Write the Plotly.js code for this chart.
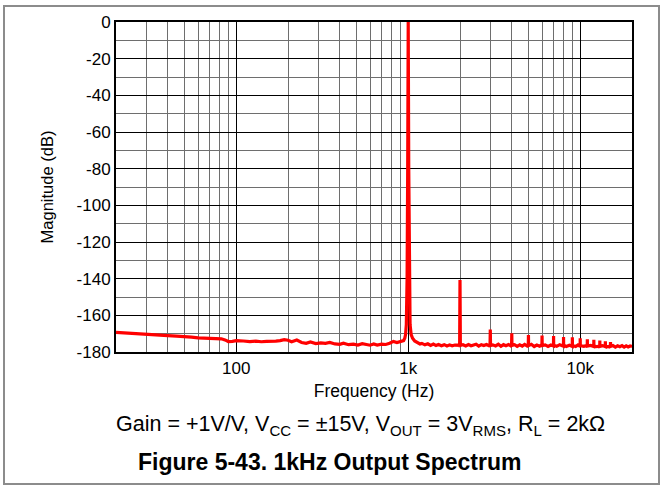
<!DOCTYPE html>
<html>
<head>
<meta charset="utf-8">
<script src="https://cdn.plot.ly/plotly-3.0.1.min.js"></script>
<style>
  html, body { margin: 0; padding: 0; background: #fff; }
  #wrap { position: relative; width: 662px; height: 485px; }
  #chart { position: absolute; left: 0; top: 0; width: 662px; height: 485px; }
  #frame { position: absolute; left: 3px; top: 5px; width: 653px; height: 476px;
           border: 2px solid #8c8c8c; pointer-events: none; }
</style>
</head>
<body>
<div id="wrap">
  <div id="chart"></div>
  <div id="frame"></div>
</div>
<script>
// Frequencies (Hz) and magnitudes (dB)
const freqLow = [20, 22, 25, 28, 32, 36, 40, 45, 50, 55, 60, 66, 72, 78, 82, 86, 90, 95, 100,
  110, 120, 130, 140, 150, 160, 170, 180, 190, 200, 210, 225, 240, 255, 270, 290, 310, 330,
  350, 375, 400, 420, 450, 480, 510, 540, 570, 600, 630, 660, 700, 740, 780, 820, 860, 900];
const magLow = [-169.3, -169.6, -170.0, -170.3, -170.6, -170.9, -171.1, -171.3, -171.5, -171.9, -172.3, -172.5, -172.6, -172.7, -172.8, -173.4, -174.3, -174.2, -173.8,
  -174.0, -174.3, -174.1, -174.4, -174.2, -174.3, -174.1, -173.8, -173.3, -173.6, -174.4, -173.5, -174.8, -175.3, -174.5, -175.4, -175.0, -175.3,
  -174.8, -175.6, -175.8, -175.2, -176.0, -175.7, -176.2, -175.5, -176.0, -176.3, -175.6, -176.2, -175.7, -175.9, -175.2, -174.2, -174.8, -174.5];

const freqPeak = [940, 955, 965, 975, 985, 993, 1000, 1007, 1015, 1025, 1040, 1060, 1090, 1130];
const magPeak = [-173.8, -172.5, -170.5, -165.0, -140.0, -80.0, 0.0, -80.0, -140.0, -165.0, -170.5, -172.5, -174.0, -175.0];

const freqHigh = [1170, 1200, 1250, 1300, 1350, 1400, 1450, 1500, 1560, 1620, 1680, 1740, 1800, 1870, 1940, 1990,
  2000, 2010, 2080, 2160, 2240, 2320, 2400, 2480, 2570, 2660, 2750, 2850, 2950, 2990,
  3000, 3010, 3100, 3220, 3340, 3460, 3580, 3700, 3830, 3950, 3990,
  4000, 4010, 4150, 4300, 4450, 4600, 4750, 4900, 4990,
  5000, 5010, 5200, 5400, 5600, 5800, 5990,
  6000, 6010, 6250, 6500, 6750, 6990,
  7000, 7010, 7300, 7600, 7990,
  8000, 8010, 8300, 8650, 8990,
  9000, 9010, 9400, 9700, 9990,
  10000, 10010, 10500, 10990,
  11000, 11010, 11500, 11990,
  12000, 12010, 12500, 12990,
  13000, 13010, 13500, 13990,
  14000, 14010, 14500, 14990,
  15000, 15010, 15500, 16000, 16500, 17000, 17500, 18000, 18500, 19000, 19500, 20000];
const magHigh = [-175.6, -175.3, -176.1, -175.5, -176.4, -175.7, -176.5, -175.9, -176.6, -176.0, -176.7, -176.1, -176.6, -176.2, -176.5, -176.3,
  -140.8, -176.4, -176.0, -176.7, -175.9, -176.6, -176.2, -175.8, -176.8, -176.0, -176.5, -175.9, -176.6, -176.3,
  -167.7, -176.4, -176.1, -176.7, -175.8, -176.9, -176.0, -176.6, -175.9, -176.7, -176.2,
  -169.8, -176.4, -176.0, -176.9, -176.1, -176.8, -175.9, -176.7, -176.2,
  -170.7, -176.5, -175.8, -177.0, -176.2, -176.8, -176.0,
  -171.0, -176.5, -176.1, -177.0, -176.2, -176.7,
  -171.3, -176.3, -176.9, -176.0, -176.8,
  -171.8, -176.2, -177.0, -176.3, -176.9,
  -172.0, -176.4, -177.0, -176.2, -177.0,
  -172.5, -176.5, -176.9, -176.3,
  -173.0, -176.8, -176.4, -177.0,
  -173.3, -176.6, -177.1, -176.6,
  -173.8, -176.9, -176.5, -177.1,
  -174.2, -176.8, -177.2, -176.6,
  -174.5, -177.0, -176.5, -177.3, -176.6, -177.1, -176.5, -177.3, -176.6, -177.2, -176.7, -177.0];

const xTickVals = [100, 1000, 10000];
const xTickText = ['100', '1k', '10k'];
const xMinorVals = [20, 30, 40, 50, 60, 70, 80, 90, 200, 300, 400, 500, 600, 700, 800, 900,
  2000, 3000, 4000, 5000, 6000, 7000, 8000, 9000];
const yTickVals = [0, -20, -40, -60, -80, -100, -120, -140, -160, -180];
const yTickText = ['0', '-20', '-40', '-60', '-80', '-100', '-120', '-140', '-160', '-180'];

const freq = freqLow.concat(freqPeak, freqHigh);
const mag = magLow.concat(magPeak, magHigh);

const FONT = 'Arial, "Liberation Sans", sans-serif';

const trace = {
  x: freq, y: mag, type: 'scatter', mode: 'lines',
  line: { color: '#ff0000', width: 3.2 },
  hoverinfo: 'skip'
};

const layout = {
  width: 662, height: 485,
  margin: { l: 116, r: 30, t: 22, b: 133 },
  paper_bgcolor: '#ffffff', plot_bgcolor: '#ffffff',
  showlegend: false,
  font: { family: FONT, color: '#000', size: 16 },
  xaxis: {
    type: 'log', range: [Math.log10(20), Math.log10(20000)],
    tickmode: 'array', tickvals: xTickVals, ticktext: xTickText,
    showgrid: true, gridcolor: '#000000', gridwidth: 1,
    minor: { tickmode: 'array', tickvals: xMinorVals, showgrid: true, gridcolor: '#6e6e6e', gridwidth: 1, ticks: '' },
    showline: true, linecolor: '#000', linewidth: 2, mirror: true,
    ticks: '', ticklen: 0,
    tickfont: { family: FONT, size: 17, color: '#000' },
    title: { text: 'Frequency (Hz)', font: { family: FONT, size: 17.5, color: '#000' }, standoff: 7 },
    zeroline: false, fixedrange: true
  },
  yaxis: {
    range: [-180, 0],
    tickmode: 'array', tickvals: yTickVals, ticktext: yTickText,
    showgrid: true, gridcolor: '#000000', gridwidth: 1,
    minor: { dtick: 10, showgrid: true, gridcolor: '#6e6e6e', gridwidth: 1, ticks: '' },
    showline: true, linecolor: '#000', linewidth: 2, mirror: true,
    ticks: '', ticklen: 0,
    tickfont: { family: FONT, size: 17, color: '#000' },
    title: { text: 'Magnitude (dB)', font: { family: FONT, size: 16.5, color: '#000' }, standoff: 19 },
    zeroline: false, fixedrange: true
  },
  annotations: [
    {
      xref: 'paper', yref: 'paper', x: (360 - 116) / 516, y: -(425 - 352) / 330,
      xanchor: 'center', yanchor: 'middle', showarrow: false,
      text: 'Gain = +1V/V, V<sub>CC</sub> = ±15V, V<sub>OUT</sub> = 3V<sub>RMS</sub>, R<sub>L</sub> = 2kΩ',
      font: { family: FONT, size: 21.5, color: '#000' }
    },
    {
      xref: 'paper', yref: 'paper', x: (329 - 116) / 516, y: -(462 - 352) / 330,
      xanchor: 'center', yanchor: 'middle', showarrow: false,
      text: '<b>Figure 5-43. 1kHz Output Spectrum</b>',
      font: { family: FONT, size: 23, color: '#000' }
    }
  ]
};

Plotly.newPlot('chart', [trace], layout, { staticPlot: true, displayModeBar: false });
</script>
</body>
</html>
